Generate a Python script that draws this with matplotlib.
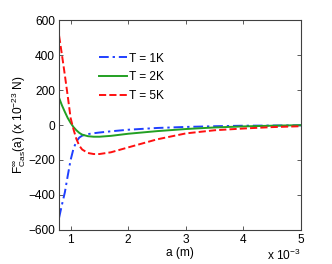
import matplotlib
matplotlib.use("Agg")
import matplotlib.pyplot as plt

# separation a, in units of 1e-3 m
a = [0.8, 0.85, 0.9, 0.95, 1.0, 1.05, 1.1, 1.15, 1.2, 1.3, 1.4, 1.5, 1.7,
     2.0, 2.5, 3.0, 3.5, 4.0, 4.5, 5.0]

# Casimir force, in units of 1e-23 N
F_1K = [-530, -455, -385, -290, -200, -135, -95, -72, -61, -52, -47, -43, -36,
        -27, -17, -11, -7, -4, -3, -2]
F_2K = [155, 112, 75, 40, 12, -12, -30, -45, -55, -64, -67, -67, -62,
        -50, -35, -23, -14, -8, -4, -1]
F_5K = [510, 400, 285, 165, 40, -25, -80, -118, -140, -160, -166, -166, -156,
        -128, -82, -48, -30, -20, -12, -7]

labels = ['T = 1K', 'T = 2K', 'T = 5K']
xticks = [1, 2, 3, 4, 5]
yticks = [-600, -400, -200, 0, 200, 400, 600]

plt.rcParams['font.family'] = ['Liberation Sans', 'DejaVu Sans']
plt.rcParams['font.size'] = 8.6
plt.rcParams['mathtext.fontset'] = 'custom'
plt.rcParams['mathtext.rm'] = 'Liberation Sans'
plt.rcParams['mathtext.it'] = 'Liberation Sans'

fig = plt.figure(figsize=(3.32, 2.64), dpi=100)
ax = fig.add_axes([0.178, 0.129, 0.729, 0.795])

ax.plot(a, F_1K, color='#1f3fff', lw=1.4, dashes=(5, 2, 1.2, 2), label=labels[0])
ax.plot(a, F_2K, '-', color='#22a022', lw=1.4, label=labels[1])
ax.plot(a, F_5K, '--', color='#ff1010', lw=1.4, label=labels[2])

ax.set_xlim(0.8, 5)
ax.set_ylim(-600, 600)
ax.set_xticks(xticks)
ax.set_yticks(yticks)
ax.set_yticklabels(['\u2212600', '\u2212400', '\u2212200', '0', '200', '400', '600'])
ax.tick_params(direction='in', top=True, right=True, length=3, width=0.6,
               colors='#404040', labelcolor='black', pad=3)
for s in ax.spines.values():
    s.set_color('#404040')
    s.set_linewidth(0.8)

ax.set_xlabel('a (m)', labelpad=1)
ax.set_ylabel(r'F$^{\infty}_{\rm Cas}$(a) (x 10$^{-23}$ N)', labelpad=0)
ax.text(1.0, -0.085, r'x 10$^{-3}$', transform=ax.transAxes, ha='right', va='top')

ax.legend(loc='upper left', bbox_to_anchor=(0.165, 0.845), frameon=False,
          handlelength=2.3, handletextpad=0.25, labelspacing=0.55,
          borderaxespad=0, borderpad=0)

fig.savefig('out.png', dpi=100)
